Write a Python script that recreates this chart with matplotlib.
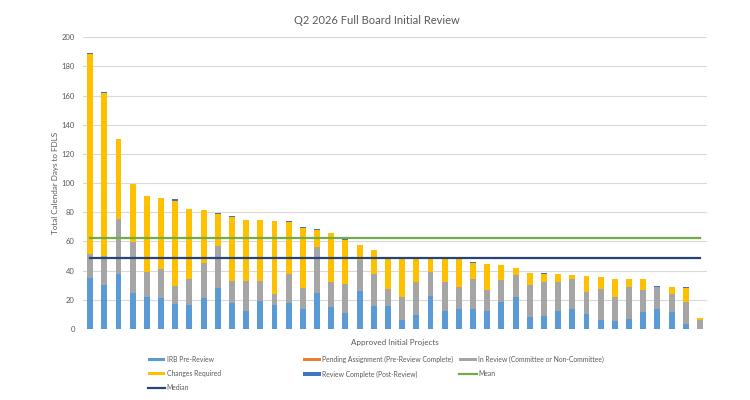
import numpy as np
import matplotlib
matplotlib.use('Agg')
import matplotlib.pyplot as plt

plt.rcParams['font.family'] = ['Lato', 'DejaVu Sans']

# stacked segments per approved project (days)
irb_pre_review = [35, 30, 38, 25, 22, 21, 17, 16.5, 21.5, 28, 18, 12, 19.5, 16.5, 17.5,
                  13.5, 24.5, 15, 11, 26, 16, 16, 6.5, 9.5, 22.5, 12, 13.5, 13.5, 12, 18.5,
                  22, 8, 9, 12.5, 13.5, 10.5, 6, 5.5, 7, 11.5, 14, 11.5, 3.5, 0]
pending_assignment = [0] * 44
in_review = [16.5, 20, 37.5, 34.5, 17, 20, 12.5, 17.5, 23.5, 29, 15, 21, 13.5, 7.5, 20.5,
             14.5, 32, 17, 20, 21, 22, 11.5, 15.5, 22.5, 16.5, 20.5, 15, 21, 14.5, 15,
             15, 22, 23, 20, 20.5, 15, 21.5, 16.5, 22, 15, 15, 12.5, 15, 6.5]
changes_required = [137, 112, 55, 40, 52, 49, 58.5, 48.5, 36.5, 22, 44, 42, 41.5, 50, 35.5,
                    41.5, 11.5, 33.5, 30, 10.5, 16.5, 20.5, 26, 16, 9, 15.5, 19.5, 11, 18, 10.5,
                    4.5, 8.5, 6, 5, 3, 11, 8, 12.5, 5.5, 8, 0, 4.5, 9.5, 1]
review_complete = [0.5, 0.5, 0, 0, 0.5, 0, 1, 0, 0, 0.5, 0.5, 0, 0, 0, 0.5,
                   0.5, 0.5, 0.5, 1, 0, 0, 0, 0, 0, 0, 0, 0, 0.5, 0, 0,
                   0, 0, 0.5, 0, 0, 0, 0, 0, 0, 0, 0.3, 0, 0.5, 0]
mean_days = 62.7
median_days = 48.5

series = [
    ('IRB Pre-Review', irb_pre_review, '#5B9BD5'),
    ('Pending Assignment (Pre-Review Complete)', pending_assignment, '#ED7D31'),
    ('In Review (Committee or Non-Committee)', in_review, '#A5A5A5'),
    ('Changes Required', changes_required, '#FFC000'),
    ('Review Complete (Post-Review)', review_complete, '#4472C4'),
]

txt = '#595959'
fig = plt.figure(figsize=(7.5, 4), dpi=100)
ax = fig.add_axes([0.1107, 0.1775, 0.832, 0.7293])

x = np.arange(len(irb_pre_review))
bottom = np.zeros(len(x))
for name, vals, col in series:
    ax.bar(x, vals, 0.42, bottom=bottom, color=col, label=name, zorder=2)
    bottom += np.array(vals)

ax.plot(x, [mean_days] * len(x), color='#70AD47', lw=1.6, label='Mean', zorder=3)
ax.plot(x, [median_days] * len(x), color='#264478', lw=1.6, label='Median', zorder=3)

ax.set_xlim(-0.5, len(x) - 0.5)
ax.set_ylim(0, 200)
ax.set_yticks(range(0, 201, 20))
ax.set_xticks([])
ax.grid(axis='y', color='#D9D9D9', lw=0.8, zorder=0)
for s in ax.spines.values():
    s.set_visible(False)
ax.tick_params(axis='y', length=0, labelsize=5.5, labelcolor=txt, pad=6)

ax.set_ylabel('Total Calendar Days to FDLS', fontsize=5.8, color=txt, labelpad=2)
ax.set_xlabel('Approved Initial Projects', fontsize=5.8, color=txt, labelpad=7)
fig.text(0.503, 0.948, 'Q2 2026 Full Board Initial Review', ha='center', va='center',
         fontsize=8, color=txt)

handles, labels = ax.get_legend_handles_labels()
h = dict(zip(labels, handles))
cols = [
    (0.197, ['IRB Pre-Review', 'Changes Required', 'Median']),
    (0.404, ['Pending Assignment (Pre-Review Complete)', 'Review Complete (Post-Review)']),
    (0.612, ['In Review (Committee or Non-Committee)', 'Mean']),
]
for xpos, names in cols:
    leg = fig.legend([h[n] for n in names], names, loc='upper left',
                     bbox_to_anchor=(xpos, 0.11), frameon=False, fontsize=4.9,
                     handlelength=2.6, handleheight=0.4, handletextpad=0.2,
                     labelspacing=1.05, borderaxespad=0, borderpad=0)
    for t in leg.get_texts():
        t.set_color(txt)

fig.savefig('out.png', dpi=100)
